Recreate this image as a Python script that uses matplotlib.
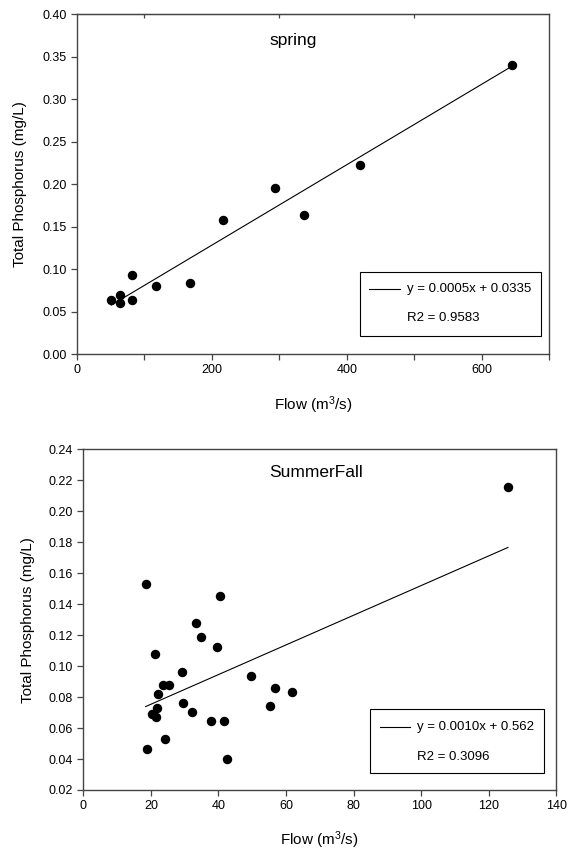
import matplotlib
matplotlib.use("Agg")
import matplotlib.pyplot as plt
from matplotlib.patches import Rectangle
from matplotlib.lines import Line2D
import numpy as np

plt.rcParams['font.family'] = ['Liberation Sans', 'DejaVu Sans']
plt.rcParams['mathtext.fontset'] = 'custom'
plt.rcParams['mathtext.rm'] = 'Liberation Sans'
plt.rcParams['mathtext.it'] = 'Liberation Sans:italic'

# ---- data: spring ----
spring_flow = [51, 64, 64, 81, 81, 117, 167, 217, 293, 337, 419, 645]
spring_tp = [0.0637, 0.070, 0.060, 0.0924, 0.0637, 0.0802, 0.0833, 0.158, 0.1956, 0.1635, 0.2227, 0.340]
spring_fit = (0.000473, 0.0335)   # slope, intercept
spring_eq = "y = 0.0005x + 0.0335"
spring_r2 = "R2 = 0.9583"

# ---- data: summer/fall ----
sf_flow = [18.45, 33.26, 34.87, 40.45, 125.7, 21.24, 39.7, 29.29, 49.57, 23.50,
           25.43, 22.21, 56.86, 61.69, 29.61, 21.78, 55.36, 32.08, 20.38, 21.46,
           37.76, 41.63, 24.25, 18.99, 42.48]
sf_tp = [0.1527, 0.1281, 0.1187, 0.145, 0.2159, 0.1081, 0.1122, 0.0963, 0.0937, 0.0875,
         0.0875, 0.0823, 0.0859, 0.0836, 0.0763, 0.0728, 0.0741, 0.0702, 0.0691, 0.0674,
         0.0648, 0.0646, 0.0532, 0.0463, 0.0403]
sf_fit = (0.000958, 0.0562)
sf_eq = "y = 0.0010x + 0.562"
sf_r2 = "R2 = 0.3096"

spring_xticks = [0, 200, 400, 600]
spring_xminor = [100, 300, 500, 700]
spring_top_ticks = [100, 300, 500]
spring_yticks = [0.00, 0.05, 0.10, 0.15, 0.20, 0.25, 0.30, 0.35, 0.40]
sf_xticks = [0, 20, 40, 60, 80, 100, 120, 140]
sf_yticks = [0.02, 0.04, 0.06, 0.08, 0.10, 0.12, 0.14, 0.16, 0.18, 0.20, 0.22, 0.24]

fig = plt.figure(figsize=(5.68, 8.5), dpi=100)
ax1 = fig.add_axes([0.1356, 0.5835, 0.8310, 0.400])
ax2 = fig.add_axes([0.1467, 0.0706, 0.8326, 0.4008])

spine_col = '#444444'
TICK_FS = 9
LAB_FS = 11
TITLE_FS = 12.5
LEG_FS = 9.5


def style(ax):
    for s in ax.spines.values():
        s.set_color(spine_col)
        s.set_linewidth(1.0)
    ax.tick_params(which='both', direction='out', length=4, width=0.9,
                   color=spine_col, labelsize=TICK_FS, top=False, right=False)


def legend_box(ax, box, line, text_x, y1, y2, eq, r2):
    ax.add_patch(Rectangle((box[0], box[1]), box[2] - box[0], box[3] - box[1],
                           transform=ax.transAxes, fill=True, facecolor='white',
                           edgecolor='black', linewidth=0.8, zorder=5))
    ax.add_line(Line2D([line[0], line[1]], [y1, y1], transform=ax.transAxes,
                       color='black', linewidth=0.8, zorder=6))
    ax.text(text_x, y1, eq, transform=ax.transAxes, va='center', ha='left',
            fontsize=LEG_FS, zorder=6)
    ax.text(text_x, y2, r2, transform=ax.transAxes, va='center', ha='left',
            fontsize=LEG_FS, zorder=6)


# ---- spring panel ----
style(ax1)
ax1.plot(spring_flow, spring_tp, 'o', color='black', ms=5.8, zorder=3)
xf = np.array([min(spring_flow), max(spring_flow)])
ax1.plot(xf, spring_fit[0] * xf + spring_fit[1], color='black', lw=0.8, zorder=2)
ax1.set_xlim(0, 700)
ax1.set_ylim(0, 0.40)
ax1.set_xticks(spring_xticks)
ax1.set_xticks(spring_xminor, minor=True)
ax1.set_xticklabels([str(t) for t in spring_xticks])
ax1.set_yticks(spring_yticks)
ax1.set_yticklabels([f"{t:.2f}" for t in spring_yticks])
sec = ax1.secondary_xaxis('top')
sec.set_xticks(spring_top_ticks)
sec.tick_params(direction='in', length=3, width=0.9, color=spine_col, labeltop=False)
sec.spines['top'].set_color(spine_col)
ax1.text(0.457, 0.9235, 'spring', transform=ax1.transAxes, ha='center', va='center',
         fontsize=TITLE_FS)
ax1.set_xlabel('Flow (m$^3$/s)', fontsize=LAB_FS)
ax1.set_ylabel('Total Phosphorus (mg/L)', fontsize=LAB_FS)
ax1.xaxis.set_label_coords(0.5, -0.12)
ax1.yaxis.set_label_coords(-0.105, 0.5)
legend_box(ax1, (0.599, 0.054, 0.983, 0.240), (0.618, 0.684), 0.700, 0.190, 0.105,
           spring_eq, spring_r2)

# ---- summer/fall panel ----
style(ax2)
ax2.plot(sf_flow, sf_tp, 'o', color='black', ms=5.8, zorder=3)
xf2 = np.array([min(sf_flow), max(sf_flow)])
ax2.plot(xf2, sf_fit[0] * xf2 + sf_fit[1], color='black', lw=0.8, zorder=2)
ax2.set_xlim(0, 140)
ax2.set_ylim(0.02, 0.24)
ax2.set_xticks(sf_xticks)
ax2.set_xticklabels([str(t) for t in sf_xticks])
ax2.set_yticks(sf_yticks)
ax2.set_yticklabels([f"{t:.2f}" for t in sf_yticks])
ax2.text(0.492, 0.9325, 'SummerFall', transform=ax2.transAxes, ha='center', va='center',
         fontsize=TITLE_FS)
ax2.set_xlabel('Flow (m$^3$/s)', fontsize=LAB_FS)
ax2.set_ylabel('Total Phosphorus (mg/L)', fontsize=LAB_FS)
ax2.xaxis.set_label_coords(0.5, -0.115)
ax2.yaxis.set_label_coords(-0.103, 0.5)
legend_box(ax2, (0.6068, 0.0508, 0.9747, 0.2369), (0.627, 0.691), 0.7065, 0.1858, 0.0977,
           sf_eq, sf_r2)

fig.savefig('out.png', dpi=100)
